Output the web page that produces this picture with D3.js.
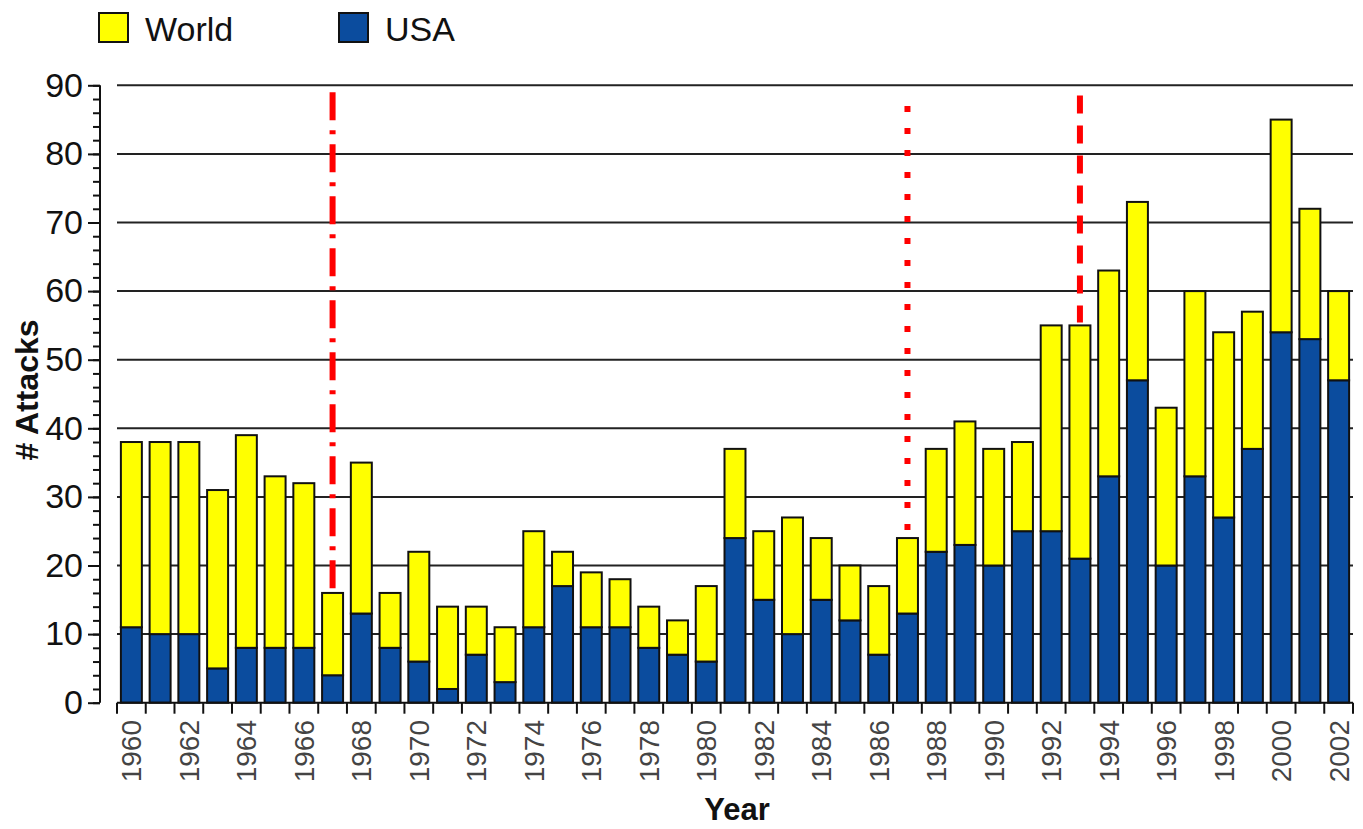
<!DOCTYPE html>
<html>

<head>
	<meta charset='utf-8'>
	<style>
		body {
			margin: 0;
			background-color: white;
		}

		svg {
			font-family: Arial, 'Liberation Sans', sans-serif;
		}
	</style>
</head>

<body>
	<svg></svg>
	<script src="https://d3js.org/d3.v7.min.js"></script>
	<script>
		var years = d3.range(1960, 2003);
		// USA attacks (bottom, blue)
		var usa = [11, 10, 10, 5, 8, 8, 8, 4, 13, 8, 6, 2, 7, 3, 11, 17, 11, 11, 8, 7, 6,
			24, 15, 10, 15, 12, 7, 13, 22, 23, 20, 25, 25, 21, 33, 47, 20, 33, 27, 37, 54, 53, 47];
		// rest of world (top, yellow)
		var world = [27, 28, 28, 26, 31, 25, 24, 12, 22, 8, 16, 12, 7, 8, 14, 5, 8, 7, 6, 5, 11,
			13, 10, 17, 9, 8, 10, 11, 15, 18, 17, 13, 30, 34, 30, 26, 23, 27, 27, 20, 31, 19, 13];
		var yTicks = [0, 10, 20, 30, 40, 50, 60, 70, 80, 90];
		// event markers: year, top value, dash style
		var markerYears = [1967, 1987, 1993];
		var markerTops = [89, 87, 88.5];
		var markerDash = ['28,10,4,10', '6,16', '18,12'];

		var width = 1363, height = 829;
		var svg = d3.select('svg').attr('width', width).attr('height', height);

		var x_scale = d3.scaleBand().domain(years).range([117, 1353]).paddingInner(0.27).paddingOuter(0.135);
		var y_scale = d3.scaleLinear().domain([0, 90]).range([702.7, 85.3]);

		var rows = years.map(function (y, i) { return { year: y, usa: usa[i], world: world[i] }; });
		var stack = d3.stack().keys(['usa', 'world'])(rows);
		var colors = { usa: '#0b4c9e', world: '#ffff00' };

		// gridlines
		svg.append('g').selectAll('line').data(yTicks.slice(1)).enter().append('line')
			.attr('x1', 117).attr('x2', 1353)
			.attr('y1', function (d) { return y_scale(d) }).attr('y2', function (d) { return y_scale(d) })
			.attr('stroke', '#222').attr('stroke-width', 2);

		// y axis
		var y_axis = d3.axisLeft(y_scale).tickValues(yTicks).tickSize(12).tickPadding(5);
		var gy = svg.append('g').attr('transform', 'translate(100,0)').call(y_axis);
		gy.selectAll('text').attr('font-size', 34).attr('fill', '#111').attr('font-family', 'Arial, Liberation Sans, sans-serif');
		gy.selectAll('line').attr('stroke', '#111').attr('stroke-width', 2);
		gy.select('.domain').attr('d', 'M0,' + y_scale(90) + 'V' + y_scale(0)).attr('stroke', '#111').attr('stroke-width', 2);
		var y_minor = d3.axisLeft(y_scale).tickValues(d3.range(0, 91, 2)).tickSize(7).tickFormat('');
		var gym = svg.append('g').attr('transform', 'translate(100,0)').call(y_minor);
		gym.select('.domain').remove();
		gym.selectAll('line').attr('stroke', '#111').attr('stroke-width', 2);

		// bars
		svg.append('g').selectAll('g').data(stack).enter().append('g')
			.attr('fill', function (d) { return colors[d.key] })
			.selectAll('rect').data(function (d) { return d }).enter().append('rect')
			.attr('x', function (d) { return x_scale(d.data.year) })
			.attr('y', function (d) { return y_scale(d[1]) })
			.attr('height', function (d) { return y_scale(d[0]) - y_scale(d[1]) })
			.attr('width', x_scale.bandwidth())
			.attr('stroke', '#111').attr('stroke-width', 2);

		// x axis
		var step = x_scale.step();
		var bounds = d3.range(years.length + 1).map(function (i) { return 117 + i * step; });
		var gx = svg.append('g');
		gx.append('line').attr('x1', 117).attr('x2', 1353).attr('y1', y_scale(0)).attr('y2', y_scale(0))
			.attr('stroke', '#111').attr('stroke-width', 2);
		gx.selectAll('.tick').data(bounds).enter().append('line')
			.attr('x1', function (d) { return d }).attr('x2', function (d) { return d })
			.attr('y1', y_scale(0)).attr('y2', y_scale(0) + 11)
			.attr('stroke', '#111').attr('stroke-width', 2);
		gx.selectAll('text').data(years.filter(function (y) { return y % 2 === 0 })).enter().append('text')
			.attr('transform', function (d) { return 'translate(' + (x_scale(d) + x_scale.bandwidth() / 2) + ',720) rotate(-90)' })
			.attr('text-anchor', 'end').attr('dy', '0.36em')
			.attr('font-size', 28).attr('fill', '#444')
			.text(function (d) { return d });

		// event markers
		svg.append('g').selectAll('line').data(markerYears).enter().append('line')
			.attr('x1', function (d) { return x_scale(d) + x_scale.bandwidth() / 2 })
			.attr('x2', function (d) { return x_scale(d) + x_scale.bandwidth() / 2 })
			.attr('y1', function (d, i) { return y_scale(markerTops[i]) })
			.attr('y2', function (d) { var i = years.indexOf(d); return y_scale(usa[i] + world[i]) - 3 })
			.attr('stroke', '#ff0000').attr('stroke-width', 6)
			.attr('stroke-dasharray', function (d, i) { return markerDash[i] });

		// axis titles
		svg.append('text').attr('x', 737).attr('y', 820).attr('text-anchor', 'middle')
			.attr('font-size', 31).attr('font-weight', 'bold').attr('fill', '#111').text('Year');
		svg.append('text').attr('transform', 'translate(38,390) rotate(-90)').attr('text-anchor', 'middle')
			.attr('font-size', 32).attr('font-weight', 'bold').attr('fill', '#111').text('# Attacks');

		// legend
		var legend = [{ name: 'World', key: 'world', x: 99 }, { name: 'USA', key: 'usa', x: 339 }];
		var lg = svg.append('g').selectAll('g').data(legend).enter().append('g')
			.attr('transform', function (d) { return 'translate(' + d.x + ',13)' });
		lg.append('rect').attr('width', 29).attr('height', 29)
			.attr('fill', function (d) { return colors[d.key] }).attr('stroke', '#111').attr('stroke-width', 2);
		lg.append('text').attr('x', 46).attr('y', 28).attr('font-size', 34).attr('fill', '#111')
			.text(function (d) { return d.name });
	</script>
</body>

</html>
